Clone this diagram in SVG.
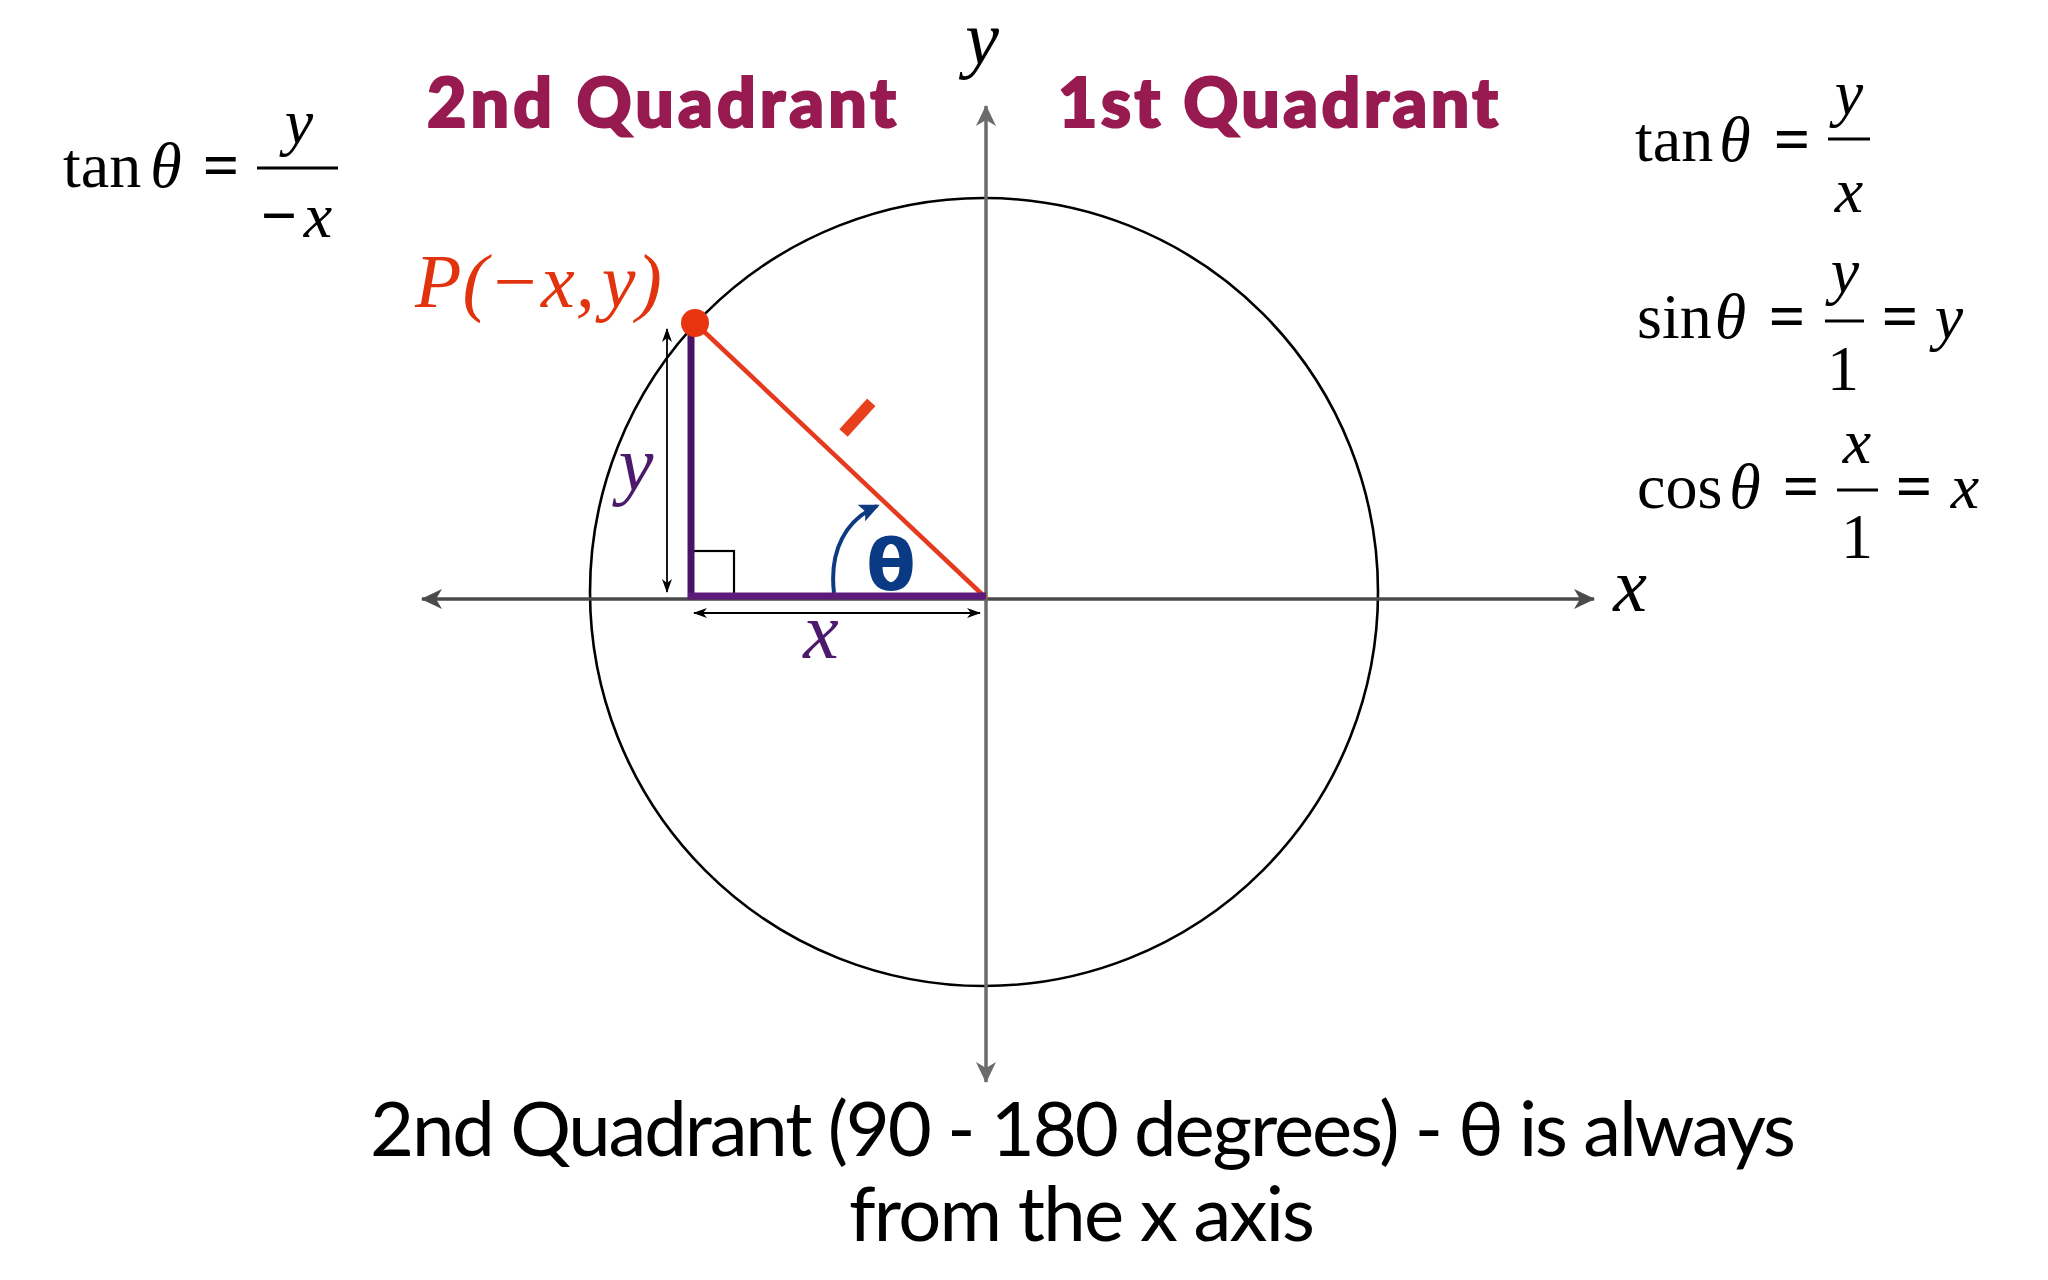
<svg xmlns="http://www.w3.org/2000/svg" width="2048" height="1280" viewBox="0 0 2048 1280">
<style>
.math{font-family:"Liberation Serif","Times New Roman",serif;fill:#000;font-size:64px}
.it{font-style:italic}
.eq{font-weight:bold}
.quad{font-family:Lato,"Open Sans","Liberation Sans",sans-serif;font-weight:900;font-size:68px;fill:#971a50;stroke:#971a50;stroke-width:2.2}
.cap{font-family:Lato,"Open Sans","Liberation Sans",sans-serif;font-size:76px;fill:#000}
.frac{stroke:#000;stroke-width:3}
.axisH{stroke:#4a4a4a;stroke-width:3.5;fill:none}
.axisV{stroke:#6b6b6b;stroke-width:3.5;fill:none}
.dim{stroke:#000;stroke-width:1.8;fill:none}
.purp{fill:#4b1a6c}
</style>
<defs>
<marker id="ahH" viewBox="0 0 22 22" refX="20" refY="11" markerWidth="22" markerHeight="22" orient="auto-start-reverse" markerUnits="userSpaceOnUse"><path d="M0,1 L21,11 L0,21 L6,11 Z" fill="#4a4a4a"/></marker>
<marker id="ahV" viewBox="0 0 22 22" refX="20" refY="11" markerWidth="22" markerHeight="22" orient="auto-start-reverse" markerUnits="userSpaceOnUse"><path d="M0,1 L21,11 L0,21 L6,11 Z" fill="#6b6b6b"/></marker>
<marker id="ahD" viewBox="0 0 14 10" refX="13" refY="5" markerWidth="14" markerHeight="10" orient="auto-start-reverse" markerUnits="userSpaceOnUse"><path d="M0,0 L14,5 L0,10 L4,5 Z" fill="#000"/></marker>
<marker id="ahB" viewBox="0 0 20 20" refX="17" refY="10" markerWidth="20" markerHeight="20" orient="auto" markerUnits="userSpaceOnUse"><path d="M0,1 L20,10 L0,19 L4,10 Z" fill="#0d3a80"/></marker>
<clipPath id="tickClip" clipPathUnits="userSpaceOnUse"><rect x="-1.4" y="-30" width="2.8" height="60"/></clipPath>
</defs>
<rect x="0" y="0" width="2048" height="1280" fill="#fff"/>

<g id="circle"><circle cx="984" cy="592" r="394" fill="none" stroke="#000" stroke-width="2.6"/></g>

<g id="connectors">
<line class="axisH" x1="422" y1="599" x2="1594" y2="599" marker-start="url(#ahH)" marker-end="url(#ahH)"/>
<line class="axisV" x1="986" y1="106" x2="986" y2="1082" marker-start="url(#ahV)" marker-end="url(#ahV)"/>
<line class="dim" x1="667" y1="329" x2="667" y2="592" marker-start="url(#ahD)" marker-end="url(#ahD)"/>
<line class="dim" x1="694" y1="613" x2="980" y2="613" marker-start="url(#ahD)" marker-end="url(#ahD)"/>
<path d="M834,593 C829,550 846,520 877,506" fill="none" stroke="#0d3a80" stroke-width="4" marker-end="url(#ahB)"/>
</g>

<g id="triangle">
<rect x="691" y="551" width="43" height="44" fill="none" stroke="#000" stroke-width="2.2"/>
<line x1="695" y1="323" x2="986" y2="598" stroke="#e53a1e" stroke-width="4.5"/>
<line x1="691" y1="327" x2="691" y2="599" stroke="#4a1262" stroke-width="7"/>
<line x1="688" y1="596" x2="986" y2="596" stroke="#5c1b7b" stroke-width="7"/>
<circle cx="695" cy="323" r="14" fill="#e8340f"/>
</g>

<g id="labels">
<text x="415" y="307" class="math it" style="font-size:76px;fill:#e2330f;letter-spacing:1px">P(−x,<tspan dx="6">y</tspan>)</text>
<text x="636" y="490" class="math it purp" text-anchor="middle" style="font-size:78px">y</text>
<text x="821" y="658" class="math it purp" text-anchor="middle" style="font-size:80px">x</text>
<text x="891" y="590" text-anchor="middle" style="font-family:'DejaVu Sans','Liberation Sans',sans-serif;font-weight:bold;font-size:72px;fill:#0b3a85">θ</text>
<g transform="translate(858,417) rotate(42.2) scale(4,1)"><text x="-20.5" y="21.5" clip-path="url(#tickClip)" style="font-family:'Liberation Sans',Arial,sans-serif;font-weight:bold;font-size:60px;fill:#e8401c">1</text></g>
<text x="982" y="64" class="math it" text-anchor="middle" style="font-size:76px">y</text>
<text x="1630" y="611" class="math it" text-anchor="middle" style="font-size:76px">x</text>
</g>

<g id="quadrant-titles">
<text x="427" y="127" class="quad" textLength="469">2nd Quadrant</text>
<text x="1058" y="127" class="quad" textLength="440">1st Quadrant</text>
</g>

<g id="formula-left">
<text x="63" y="187" class="math">tan<tspan class="it" dx="9">θ</tspan></text>
<text x="221" y="187" class="math eq" text-anchor="middle">=</text>
<line class="frac" x1="257" y1="168" x2="338" y2="168"/>
<text x="299" y="143" class="math it" text-anchor="middle">y</text>
<text x="279" y="237" class="math eq" text-anchor="middle">−</text>
<text x="318" y="237" class="math it" text-anchor="middle">x</text>
</g>

<g id="formula-tan">
<text x="1635" y="161" class="math">tan<tspan class="it" dx="6">θ</tspan></text>
<text x="1792" y="161" class="math eq" text-anchor="middle">=</text>
<line class="frac" x1="1828" y1="139" x2="1870" y2="139"/>
<text x="1849" y="114" class="math it" text-anchor="middle">y</text>
<text x="1849" y="212" class="math it" text-anchor="middle">x</text>
</g>

<g id="formula-sin">
<text x="1637" y="338" class="math">sin<tspan class="it" dx="3">θ</tspan></text>
<text x="1787" y="338" class="math eq" text-anchor="middle">=</text>
<line class="frac" x1="1825" y1="321" x2="1864" y2="321"/>
<text x="1845" y="292" class="math it" text-anchor="middle">y</text>
<text x="1843" y="390" class="math" text-anchor="middle">1</text>
<text x="1900" y="338" class="math eq" text-anchor="middle">=</text>
<text x="1949" y="338" class="math it" text-anchor="middle">y</text>
</g>

<g id="formula-cos">
<text x="1637" y="508" class="math">cos<tspan class="it" dx="7">θ</tspan></text>
<text x="1801" y="508" class="math eq" text-anchor="middle">=</text>
<line class="frac" x1="1837" y1="490" x2="1878" y2="490"/>
<text x="1857" y="463" class="math it" text-anchor="middle">x</text>
<text x="1857" y="558" class="math" text-anchor="middle">1</text>
<text x="1914" y="508" class="math eq" text-anchor="middle">=</text>
<text x="1965" y="508" class="math it" text-anchor="middle">x</text>
</g>

<g id="caption">
<text x="370" y="1156" class="cap" textLength="1426">2nd Quadrant (90 - 180 degrees) - θ is always</text>
<text x="849" y="1241" class="cap" textLength="466">from the x axis</text>
</g>
</svg>
